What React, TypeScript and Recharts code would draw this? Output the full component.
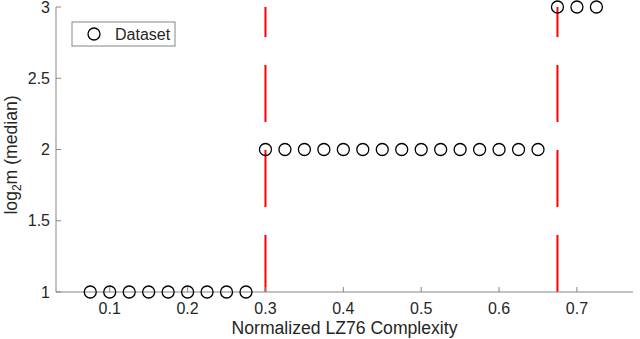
import React from "react";
import {
  ScatterChart,
  Scatter,
  XAxis,
  YAxis,
  ReferenceLine,
  Customized,
} from "recharts";

// points: complexity vs median log2 m
const lowX = [0.075, 0.1, 0.125, 0.15, 0.175, 0.2, 0.225, 0.25, 0.275];
const midX = [
  0.3, 0.325, 0.35, 0.375, 0.4, 0.425, 0.45, 0.475, 0.5, 0.525, 0.55, 0.575,
  0.6, 0.625, 0.65,
];
const highX = [0.675, 0.7, 0.725];
const lowY = 1;
const midY = 2;
const highY = 3;

// thresholds drawn as red dashed lines
const thresholds = [0.3, 0.675];

const xTicks = [0.1, 0.2, 0.3, 0.4, 0.5, 0.6, 0.7];
const yTicks = [1, 1.5, 2, 2.5, 3];
const xDomain = [0.031, 0.772];
const yDomain = [1, 3];

const data = [
  ...lowX.map((x) => ({ x, y: lowY })),
  ...midX.map((x) => ({ x, y: midY })),
  ...highX.map((x) => ({ x, y: highY })),
];

const FONT = "'Liberation Sans', Arial, Helvetica, sans-serif";
const AXIS = "#858585";
const TEXT = "#262626";

const BottomTick = (props: any) => {
  const { x, y, payload } = props;
  return (
    <g>
      <line x1={x} y1={y} x2={x} y2={y - 5} stroke={AXIS} />
      <text x={x} y={y + 22} textAnchor="middle" fill={TEXT} fontSize={16} fontFamily={FONT}>
        {payload.value}
      </text>
    </g>
  );
};

const TopTick = (props: any) => {
  const { x, y } = props;
  return <line x1={x} y1={y} x2={x} y2={y + 5} stroke={AXIS} />;
};

const LeftTick = (props: any) => {
  const { x, y, payload } = props;
  return (
    <g>
      <line x1={x} y1={y} x2={x + 5} y2={y} stroke={AXIS} />
      <text x={x - 6} y={y + 5.7} textAnchor="end" fill={TEXT} fontSize={16} fontFamily={FONT}>
        {payload.value}
      </text>
    </g>
  );
};

const RightTick = (props: any) => {
  const { x, y } = props;
  return <line x1={x} y1={y} x2={x - 5} y2={y} stroke={AXIS} />;
};

const OpenCircle = (props: any) => (
  <circle cx={props.cx} cy={props.cy} r={6} fill="none" stroke="#000" strokeWidth={1.3} />
);

const LegendBox = () => (
  <g>
    <rect x={72} y={22} width={103} height={24} fill="#fff" stroke={AXIS} />
    <circle cx={94} cy={34} r={6} fill="none" stroke="#000" strokeWidth={1.3} />
    <text x={115} y={39.7} fill={TEXT} fontSize={16} fontFamily={FONT}>
      Dataset
    </text>
  </g>
);

export default function App() {
  return (
    <div style={{ position: "absolute", left: 0, top: 0, width: 640, height: 339, background: "#fff" }}>
      <ScatterChart width={640} height={339} margin={{ top: 7, right: 7, left: 0, bottom: 0 }}>
        <XAxis
          dataKey="x"
          type="number"
          domain={xDomain}
          ticks={xTicks}
          interval={0}
          height={47}
          stroke={AXIS}
          tickLine={false}
          tickSize={0}
          tickMargin={0}
          tick={<BottomTick />}
          label={{
            content: (p: any) => {
              const vb = p.viewBox;
              return (
                <text
                  x={vb.x + vb.width / 2}
                  y={vb.y + 42}
                  textAnchor="middle"
                  fill={TEXT}
                  fontSize={17.6}
                  fontFamily={FONT}
                >
                  Normalized LZ76 Complexity
                </text>
              );
            },
          }}
        />
        <XAxis
          xAxisId="top"
          orientation="top"
          type="number"
          domain={xDomain}
          ticks={xTicks}
          interval={0}
          height={0}
          stroke={AXIS}
          tickLine={false}
          tickSize={0}
          tickMargin={0}
          tick={<TopTick />}
        />
        <YAxis
          dataKey="y"
          type="number"
          domain={yDomain}
          ticks={yTicks}
          interval={0}
          width={56}
          stroke={AXIS}
          tickLine={false}
          tickSize={0}
          tickMargin={0}
          tick={<LeftTick />}
          label={{
            content: () => (
              <text
                transform="translate(17,155) rotate(-90)"
                textAnchor="middle"
                fill={TEXT}
                fontSize={17.6}
                fontFamily={FONT}
              >
                <tspan>log</tspan>
                <tspan dy={4} fontSize={12}>2</tspan>
                <tspan dy={-4}>m (median)</tspan>
              </text>
            ),
          }}
        />
        <YAxis
          yAxisId="right"
          orientation="right"
          type="number"
          domain={yDomain}
          ticks={yTicks}
          interval={0}
          width={0}
          stroke={AXIS}
          tickLine={false}
          tickSize={0}
          tickMargin={0}
          tick={<RightTick />}
        />
        {thresholds.map((t) => (
          <ReferenceLine
            key={t}
            segment={[
              { x: t, y: yDomain[0] },
              { x: t, y: yDomain[1] },
            ]}
            stroke="#ff0000"
            strokeWidth={2}
            strokeDasharray="57 28"
          />
        ))}
        <Scatter data={data} shape={<OpenCircle />} isAnimationActive={false} />
        <Customized component={LegendBox} />
      </ScatterChart>
    </div>
  );
}
